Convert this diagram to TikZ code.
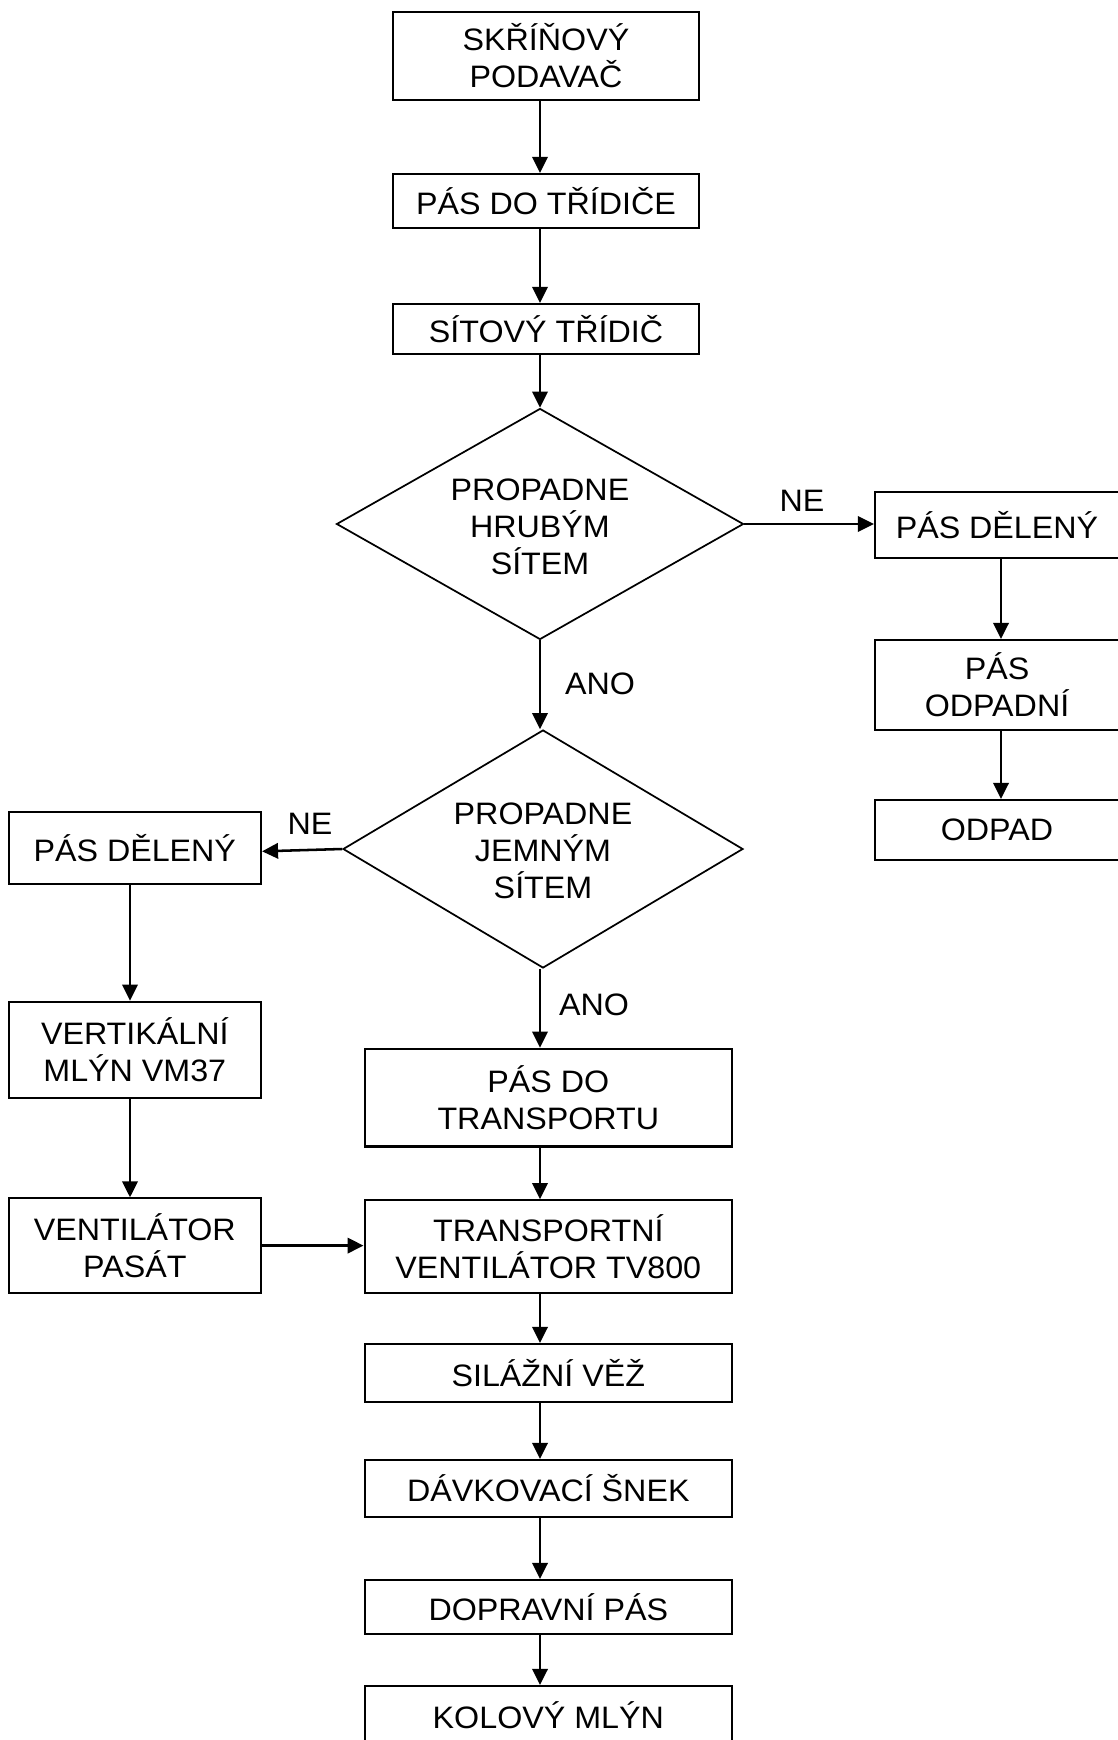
\documentclass[tikz,border=0pt]{standalone}
\usepackage{fontspec}
\setmainfont{Liberation Sans}[FakeStretch=1.04]
\usetikzlibrary{shapes.geometric,arrows.meta}
\begin{document}
\begin{tikzpicture}[x=0.75pt,y=-0.75pt,
  every node/.style={font=\fontsize{23.25pt}{27.75pt}\selectfont},
  box/.style={draw,line width=1.6pt,rectangle,inner sep=0pt,align=center},
  dia/.style={draw,line width=1.3pt,diamond,inner sep=0pt},
  txt/.style={align=center,inner sep=0pt},
  lbl/.style={inner sep=0pt},
  arr/.style={line width=1.9pt,-{Triangle[length=12pt,width=11.5pt]}}]
\useasboundingbox (0,0) rectangle (1117,1740);
% axes for connectors
\coordinate (ax) at (540,0);
\coordinate (rax) at (1001,0);
\coordinate (lax) at (130,0);
% top column
\node[box,minimum width=229.5pt,minimum height=66pt] (b1) at (546,56) {SKŘÍŇOVÝ\\PODAVAČ};
\node[box,minimum width=229.5pt,minimum height=40.5pt] (b2) at (546,201) {PÁS DO TŘÍDIČE};
\node[box,minimum width=229.5pt,minimum height=37.5pt] (b3) at (546,329) {SÍTOVÝ TŘÍDIČ};
% diamonds
\node[dia,minimum width=305.25pt,minimum height=173.25pt] (d1) at (540,524) {};
\node[txt] (d1t) at ([yshift=-2pt]d1.center) {PROPADNE\\HRUBÝM\\SÍTEM};
\node[dia,minimum width=300pt,minimum height=178.5pt] (d2) at (543,849) {};
\node[txt] (d2t) at ([yshift=-1pt]d2.center) {PROPADNE\\JEMNÝM\\SÍTEM};
% right column
\node[box,minimum width=183pt,minimum height=49.5pt] (r1) at (997,525) {PÁS DĚLENÝ};
\node[box,minimum width=183pt,minimum height=67.5pt] (r2) at (997,685) {PÁS\\ODPADNÍ};
\node[box,minimum width=183pt,minimum height=45pt] (r3) at (997,830) {ODPAD};
% left column
\node[box,minimum width=189.3pt,minimum height=54pt] (l1) at (134.8,848) {PÁS DĚLENÝ};
\node[box,minimum width=189.3pt,minimum height=72.4pt] (l2) at (134.8,1050) {VERTIKÁLNÍ\\MLÝN VM37};
\node[box,minimum width=189.3pt,minimum height=70.8pt] (l3) at (134.8,1245.6) {VENTILÁTOR\\PASÁT};
% lower center column
\node[box,minimum width=275.55pt,minimum height=73.35pt] (c4) at (548.3,1097.6) {PÁS DO\\TRANSPORTU};
\node[box,minimum width=275.55pt,minimum height=69.45pt] (c5) at (548.3,1246.5) {TRANSPORTNÍ\\VENTILÁTOR TV800};
\node[box,minimum width=275.55pt,minimum height=43.5pt] (c6) at (548.3,1373) {SILÁŽNÍ VĚŽ};
\node[box,minimum width=275.55pt,minimum height=42.75pt] (c7) at (548.3,1488.5) {DÁVKOVACÍ ŠNEK};
\node[box,minimum width=275.55pt,minimum height=40.5pt] (c8) at (548.3,1607) {DOPRAVNÍ PÁS};
\node[box,minimum width=275.55pt,minimum height=43.5pt] (c9) at (548.3,1715) {KOLOVÝ MLÝN};
% labels
\node[lbl] (ne1) at (802,501) {NE};
\node[lbl] (ano1) at (600,684) {ANO};
\node[lbl] (ne2) at (310,824) {NE};
\node[lbl] (ano2) at (594,1004.5) {ANO};
% connectors
\draw[arr] (b1.south -| ax) -- (b2.north -| ax);
\draw[arr] (b2.south -| ax) -- (b3.north -| ax);
\draw[arr] (b3.south -| ax) -- (d1.north);
\draw[arr] (d1.east) -- (d1.east -| r1.west);
\draw[arr] (r1.south -| rax) -- (r2.north -| rax);
\draw[arr] (r2.south -| rax) -- (r3.north -| rax);
\draw[arr] (d1.south) -- (d1.south |- d2.north);
\draw[arr] (d2.west) -- ([yshift=-2.5pt]l1.east);
\draw[arr] (l1.south -| lax) -- (l2.north -| lax);
\draw[arr] (l2.south -| lax) -- (l3.north -| lax);
\draw[arr] (l3.east) -- (l3.east -| c5.west);
\draw[arr] (d2.south -| ax) -- (c4.north -| ax);
\draw[arr] (c4.south -| ax) -- (c5.north -| ax);
\draw[arr] (c5.south -| ax) -- (c6.north -| ax);
\draw[arr] (c6.south -| ax) -- (c7.north -| ax);
\draw[arr] (c7.south -| ax) -- (c8.north -| ax);
\draw[arr] (c8.south -| ax) -- (c9.north -| ax);
\end{tikzpicture}
\end{document}
